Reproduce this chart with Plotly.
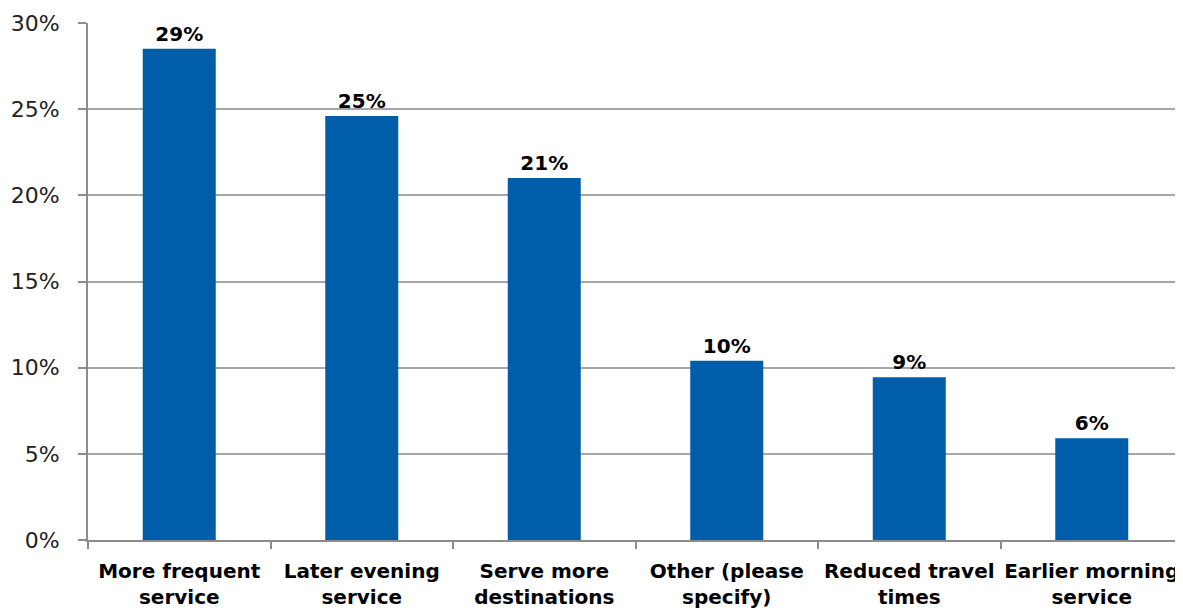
import plotly.graph_objects as go

categories = ["More frequent<br>service", "Later evening<br>service", "Serve more<br>destinations",
              "Other (please<br>specify)", "Reduced travel<br>times", "Earlier morning<br>service"]
values = [28.5, 24.6, 21.0, 10.4, 9.45, 5.9]
y_ticks = [0, 5, 10, 15, 20, 25, 30]

FONT = "DejaVu Sans"
fig = go.Figure(go.Bar(
    x=[f"<b>{c}</b>" for c in categories],
    y=values,
    width=0.4,
    marker=dict(color="#005DA9", line=dict(width=0)),
    texttemplate="<b>%{y:.0f}%</b>",
    textposition="outside",
    textfont=dict(family=FONT, size=20, color="#000000"),
    cliponaxis=False,
))
fig.update_layout(
    width=1200, height=603,
    margin=dict(l=80, r=0, t=15, b=71),
    paper_bgcolor="white", plot_bgcolor="white",
    showlegend=False, bargap=0.6,
    font=dict(family=FONT, color="#000000"),
)
fig.update_xaxes(
    range=[-0.5, 5.637], showline=True, linecolor="#8C8C8C", linewidth=2,
    ticks="outside", tickson="boundaries", ticklen=7, tickcolor="#8C8C8C", tickwidth=2,
    tickfont=dict(family=FONT, size=20, color="#000000"), showgrid=False,
    automargin=False, ticklabelstandoff=12, tickangle=0,
)
fig.update_yaxes(
    range=[0, 30], tickmode="array", tickvals=y_ticks, ticktext=[f"{v}%" for v in y_ticks],
    showline=True, linecolor="#8C8C8C", linewidth=2,
    ticks="outside", ticklen=8, tickcolor="#8C8C8C", tickwidth=2,
    showgrid=True, gridcolor="#A6A6A6", gridwidth=2, zeroline=False,
    tickfont=dict(family=FONT, size=22, color="#222222"),
    automargin=False, ticklabelstandoff=14,
)
fig.write_html("out.html")
